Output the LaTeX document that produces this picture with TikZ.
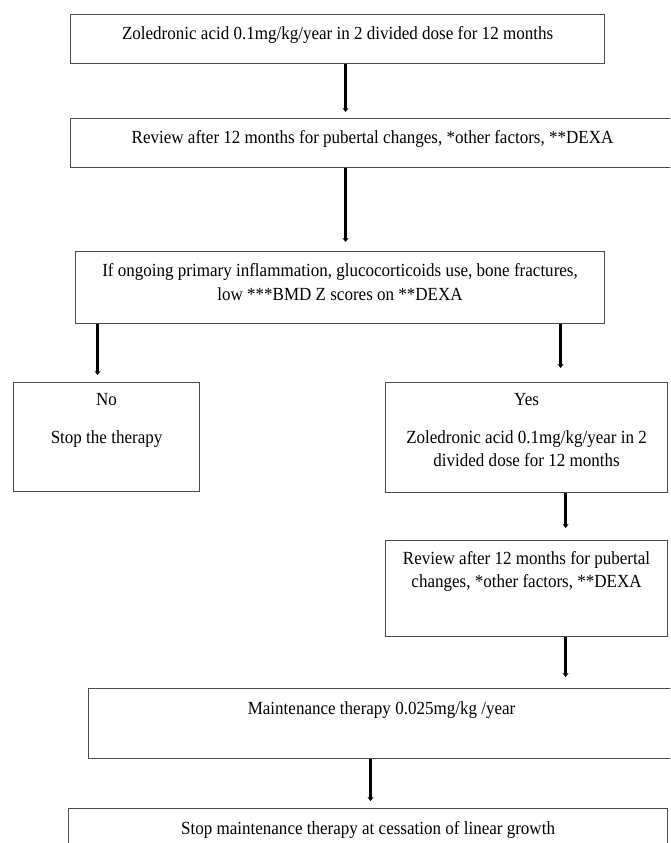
\documentclass[tikz,border=0pt]{standalone}
\usepackage{fontspec}
\setmainfont[FakeStretch=0.92]{Liberation Serif}
\usepackage{tikz}
\usetikzlibrary{positioning,arrows.meta}

\tikzset{
	box/.style={draw=black!70, line width=1.1pt, anchor=north west, inner sep=0pt},
	txt/.style={align=center, inner sep=0pt, font=\fontsize{18.5}{23.5}\selectfont},
	arr/.style={line width=2.6pt, -{Stealth[length=4pt,width=6pt]}}
}

\begin{document}
\begin{tikzpicture}[x=1pt, y=-1pt]
	\path[use as bounding box, clip] (0,0) rectangle (670,843);
	\fill[white] (0,0) rectangle (670,843);

	\node[box, minimum width=534pt, minimum height=49pt] (dose) at (70,14) {};
	\node[box, minimum width=604pt, minimum height=49pt] (review) at (70,118) {};
	\node[box, minimum width=529pt, minimum height=72pt] (ask) at (75,251) {};
	\node[box, minimum width=186pt, minimum height=109pt] (no) at (13,382) {};
	\node[box, minimum width=282pt, minimum height=110pt] (yes) at (385,382) {};
	\node[box, minimum width=282pt, minimum height=96pt] (reviewtwo) at (385,540) {};
	\node[box, minimum width=586pt, minimum height=70pt] (maint) at (88,688) {};
	\node[box, minimum width=599pt, minimum height=60pt] (stopmaint) at (68,808) {};

	\node[txt, below=12.5pt of dose.north] (dosetxt) {Zoledronic acid 0.1mg/kg/year in 2 divided dose for 12 months};
	\node[txt, below=12pt of review.north] (reviewtxt) {Review after 12 months for pubertal changes, *other factors, **DEXA};
	\node[txt, below=12.5pt of ask.north] (asktxt) {If ongoing primary inflammation, glucocorticoids use, bone fractures,\\low ***BMD Z scores on **DEXA};
	\node[txt, below=11.5pt of no.north] (notxt) {No\\[14pt]Stop the therapy};
	\node[txt, below=11.5pt of yes.north] (yestxt) {Yes\\[14pt]Zoledronic acid 0.1mg/kg/year in 2\\divided dose for 12 months};
	\node[txt, below=11pt of reviewtwo.north] (reviewtwotxt) {Review after 12 months for pubertal\\changes, *other factors, **DEXA};
	\node[txt, below=13pt of maint.north] (mainttxt) {Maintenance therapy 0.025mg/kg /year};
	\node[txt, below=13pt of stopmaint.north] (stopmainttxt) {Stop maintenance therapy at cessation of linear growth};

	\draw[arr] ([xshift=8pt]dose.south) -- ([xshift=8pt, yshift=6pt]dose.south |- review.north);
	\draw[arr] ([xshift=-27pt]review.south) -- ([xshift=-27pt, yshift=9pt]review.south |- ask.north);
	\draw[arr] ([xshift=-9pt]no.north |- ask.south) -- ([xshift=-9pt, yshift=7pt]no.north);
	\draw[arr] ([xshift=34pt]yes.north |- ask.south) -- ([xshift=34pt, yshift=14pt]yes.north);
	\draw[arr] ([xshift=39pt]yes.south) -- ([xshift=39pt, yshift=12pt]reviewtwo.north);
	\draw[arr] ([xshift=39pt]reviewtwo.south) -- ([xshift=39pt, yshift=11pt]reviewtwo.south |- maint.north);
	\draw[arr] ([xshift=-11pt]maint.south) -- ([xshift=-11pt, yshift=7pt]maint.south |- stopmaint.north);
\end{tikzpicture}
\end{document}
